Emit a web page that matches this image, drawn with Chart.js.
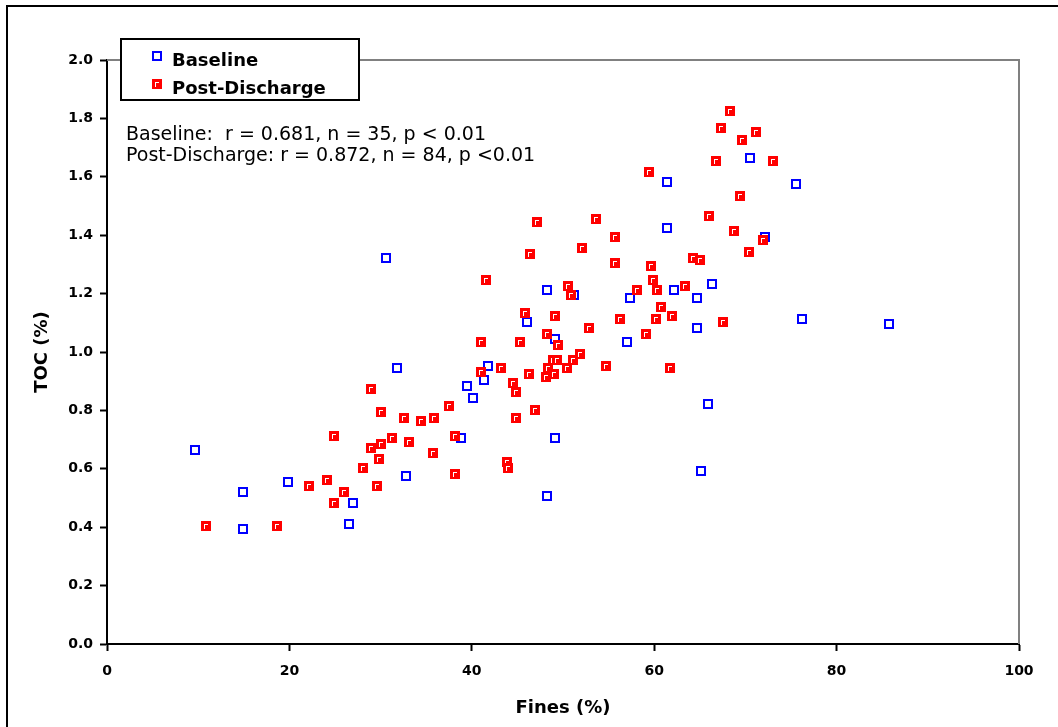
<!DOCTYPE html>
<html>
<head>
<meta charset="utf-8">
<title>TOC vs Fines</title>
<script src="https://cdn.jsdelivr.net/npm/chart.js@4.4.1/dist/chart.umd.min.js"></script>
<style>
  body { margin: 0; background: #fff; }
  #wrap { width: 1058px; height: 727px; }
</style>
</head>
<body>
<div id="wrap"><canvas id="scatterChart" width="1058" height="727"></canvas></div>
<script>
// data
const baselineFines = [9.6, 14.9, 14.9, 19.9, 26.5, 27.0, 30.6, 31.8, 32.8, 38.8, 39.5, 40.1, 41.3, 41.8,
  46.0, 48.3, 49.1, 49.1, 48.2, 51.2, 57.0, 57.4, 61.4, 61.4, 62.2, 64.7, 64.7, 65.1, 65.9, 66.3,
  70.5, 72.1, 75.5, 76.2, 85.7];
const baselineToc = [0.665, 0.522, 0.395, 0.556, 0.412, 0.484, 1.322, 0.945, 0.576, 0.707, 0.885, 0.843, 0.904, 0.953,
  1.104, 1.212, 1.046, 0.707, 0.506, 1.196, 1.035, 1.186, 1.583, 1.426, 1.212, 1.186, 1.083, 0.593, 0.823, 1.234,
  1.665, 1.395, 1.576, 1.114, 1.097];

const postFines = [68.3, 67.3, 71.2, 69.6, 66.8, 73.0, 59.4, 69.4, 66.0, 53.6, 68.8, 71.9, 55.7, 52.1, 70.4,
  55.7, 59.6, 64.2, 65.0, 59.9, 63.4, 60.3, 58.1, 50.5, 50.9, 60.7, 47.1, 46.4, 41.6, 45.8,
  49.1, 56.3, 60.2, 62.0, 67.5, 52.9, 48.2, 59.1, 41.0, 45.3, 49.5, 51.9, 48.9, 49.3, 51.1,
  54.7, 43.2, 41.0, 48.4, 50.4, 46.3, 49.0, 48.1, 44.5, 44.9, 61.7, 37.5, 46.9, 44.9, 38.2,
  43.9, 44.0, 38.2, 28.9, 30.0, 32.6, 34.4, 35.9, 24.9, 28.9, 30.0, 31.3, 33.1, 29.8, 35.7,
  28.1, 24.1, 22.2, 29.6, 26.0, 24.9, 10.9, 18.6];
const postToc = [1.826, 1.768, 1.754, 1.727, 1.655, 1.655, 1.617, 1.535, 1.467, 1.457, 1.415, 1.385, 1.395, 1.357, 1.343,
  1.306, 1.296, 1.323, 1.316, 1.248, 1.227, 1.213, 1.213, 1.227, 1.196, 1.155, 1.446, 1.337, 1.248, 1.135,
  1.124, 1.114, 1.114, 1.124, 1.104, 1.083, 1.063, 1.063, 1.035, 1.035, 1.025, 0.994, 0.974, 0.974, 0.974,
  0.953, 0.946, 0.933, 0.946, 0.946, 0.926, 0.926, 0.915, 0.895, 0.864, 0.946, 0.816, 0.802, 0.775, 0.713,
  0.624, 0.604, 0.583, 0.874, 0.796, 0.775, 0.765, 0.775, 0.713, 0.672, 0.686, 0.707, 0.693, 0.635, 0.655,
  0.604, 0.563, 0.542, 0.542, 0.522, 0.484, 0.405, 0.405];

const seriesNames = ['Baseline', 'Post-Discharge'];
const statLines = ['Baseline:  r = 0.681, n = 35, p < 0.01', 'Post-Discharge: r = 0.872, n = 84, p <0.01'];
const xRange = [0, 100, 20];
const yRange = [0, 2, 0.2];

function toPoints(xs, ys) {
  return xs.map((x, i) => ({ x: x, y: ys[i] }));
}

// excel style markers
function blueMark() {
  const c = document.createElement('canvas');
  c.width = 10; c.height = 10;
  const g = c.getContext('2d');
  g.strokeStyle = '#0000ff';
  g.lineWidth = 2;
  g.strokeRect(1, 1, 8, 8);
  return c;
}
function redMark() {
  const c = document.createElement('canvas');
  c.width = 10; c.height = 10;
  const g = c.getContext('2d');
  g.fillStyle = '#ff0000';
  g.fillRect(0, 0, 10, 10);
  g.fillStyle = '#ffffff';
  g.fillRect(3, 3, 4, 1);
  g.fillRect(3, 3, 1, 5);
  return c;
}
const marks = [blueMark(), redMark()];

const framePlugin = {
  id: 'frame',
  beforeDraw(chart) {
    const ctx = chart.ctx;
    ctx.save();
    ctx.fillStyle = '#fff';
    ctx.fillRect(0, 0, chart.width, chart.height);
    ctx.strokeStyle = '#000';
    ctx.lineWidth = 2;
    ctx.beginPath();
    ctx.moveTo(7, chart.height + 5);
    ctx.lineTo(7, 6);
    ctx.lineTo(chart.width + 5, 6);
    ctx.stroke();
    ctx.restore();
  },
  beforeDatasetsDraw(chart) {
    const ctx = chart.ctx;
    const a = chart.chartArea;
    ctx.save();
    ctx.strokeStyle = '#808080';
    ctx.lineWidth = 2;
    ctx.beginPath();
    ctx.moveTo(a.left, a.top);
    ctx.lineTo(a.right, a.top);
    ctx.lineTo(a.right, a.bottom);
    ctx.stroke();
    ctx.restore();
    ctx.imageSmoothingEnabled = false;
  },
  afterDraw(chart) {
    const ctx = chart.ctx;
    ctx.save();
    ctx.imageSmoothingEnabled = false;
    // legend box
    ctx.fillStyle = '#fff';
    ctx.fillRect(121, 39, 238, 61);
    ctx.strokeStyle = '#000';
    ctx.lineWidth = 2;
    ctx.strokeRect(121, 39, 238, 61);
    ctx.fillStyle = '#000';
    ctx.font = 'bold 18px "DejaVu Sans"';
    ctx.textBaseline = 'alphabetic';
    ctx.textAlign = 'left';
    [66, 94].forEach((base, i) => {
      ctx.drawImage(marks[i], 152, base - 15);
      ctx.fillText(seriesNames[i], 172, base);
    });
    // stats text
    ctx.font = '19px "DejaVu Sans"';
    ctx.fillText(statLines[0], 126, 140);
    ctx.fillText(statLines[1], 126, 161);
    ctx.restore();
  }
};

window.addEventListener('DOMContentLoaded', function() {
  const ctx = document.getElementById('scatterChart');
  const tickFont = { family: 'DejaVu Sans', size: 14, weight: 'bold' };
  const titleFont = { family: 'DejaVu Sans', size: 18, weight: 'bold' };

  new Chart(ctx, {
    type: 'scatter',
    data: {
      datasets: [{
        label: seriesNames[0],
        data: toPoints(baselineFines, baselineToc),
        pointStyle: marks[0],
        order: 2
      }, {
        label: seriesNames[1],
        data: toPoints(postFines, postToc),
        pointStyle: marks[1],
        order: 1
      }]
    },
    options: {
      responsive: false,
      animation: false,
      events: [],
      layout: { padding: { top: 60, right: 39, left: 0, bottom: 0 } },
      plugins: {
        legend: { display: false },
        tooltip: { enabled: false }
      },
      scales: {
        x: {
          type: 'linear',
          min: xRange[0],
          max: xRange[1],
          ticks: { stepSize: xRange[2], padding: 12, color: '#000', font: tickFont },
          grid: { drawOnChartArea: false, tickLength: 7, tickColor: '#000', tickWidth: 2 },
          border: { color: '#000', width: 2 },
          title: { display: true, text: 'Fines (%)', color: '#000', font: titleFont, padding: { top: 4, bottom: 8 } },
          afterFit: function(s) { s.height = 83; }
        },
        y: {
          type: 'linear',
          min: yRange[0],
          max: yRange[1],
          ticks: {
            stepSize: yRange[2], padding: 7, color: '#000', font: tickFont,
            callback: function(v) { return v.toFixed(1); }
          },
          grid: { drawOnChartArea: false, tickLength: 7, tickColor: '#000', tickWidth: 2 },
          border: { color: '#000', width: 2 },
          title: { display: true, text: 'TOC (%)', color: '#000', font: titleFont, padding: { top: 32, bottom: 4 } },
          afterFit: function(s) { s.width = 107; }
        }
      }
    },
    plugins: [framePlugin]
  });
});
</script>
</body>
</html>
